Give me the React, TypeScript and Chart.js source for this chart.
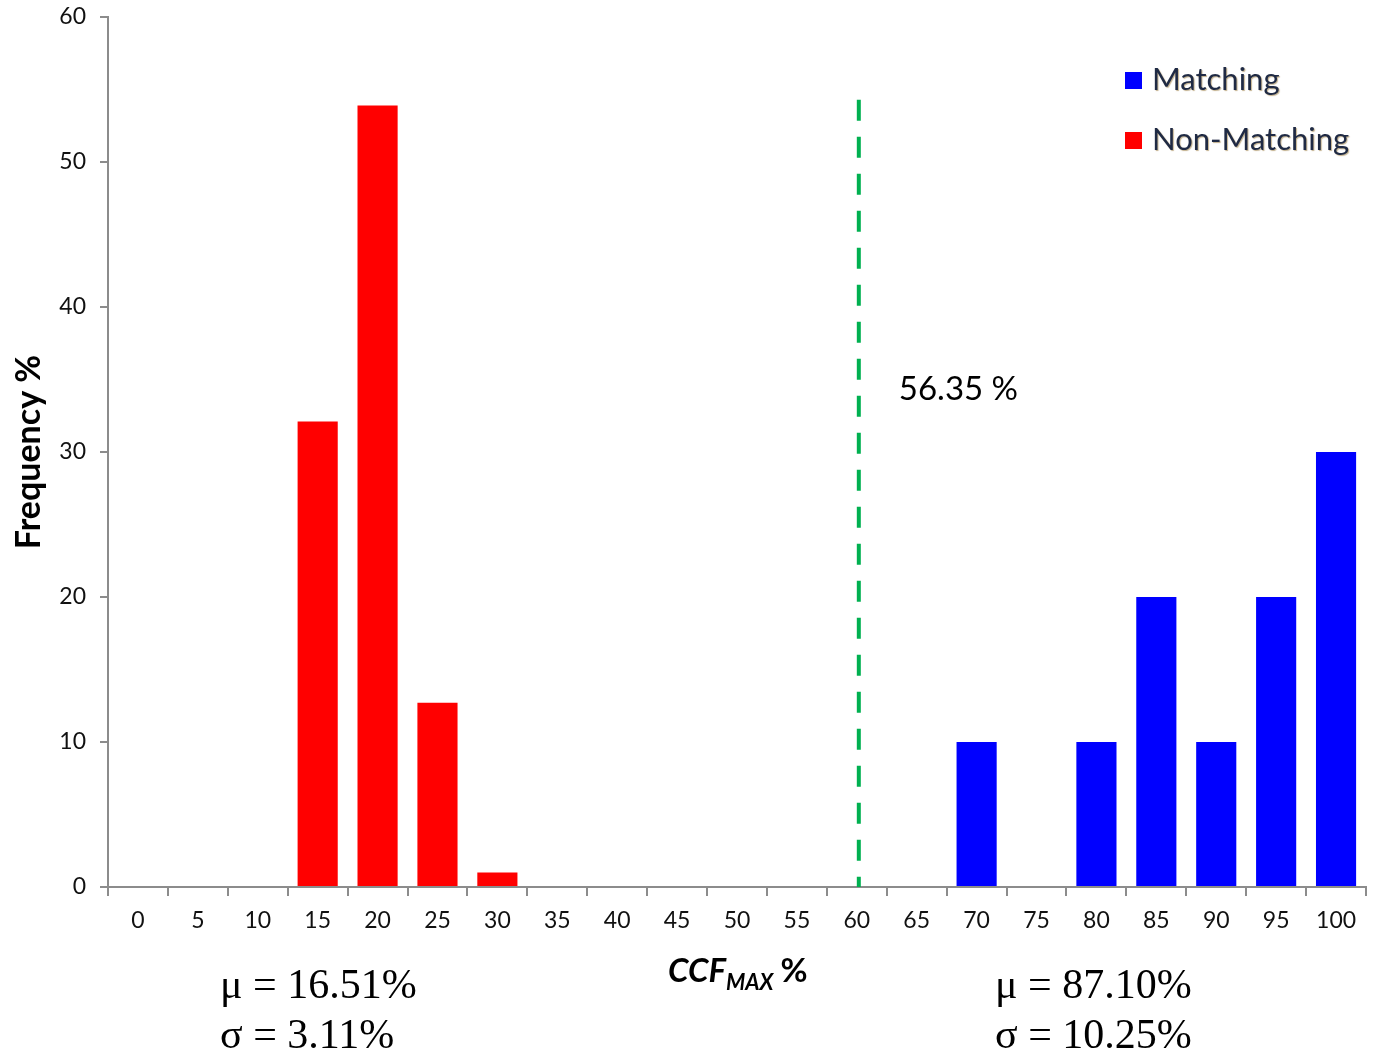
import React, { useEffect, useRef } from "react";
import { Chart, registerables } from "chart.js";

Chart.register(...registerables);

const categories = ["0","5","10","15","20","25","30","35","40","45","50","55","60","65","70","75","80","85","90","95","100"];
const nonMatching = [null,null,null,32.1,53.9,12.7,1.0,null,null,null,null,null,null,null,null,null,null,null,null,null,null];
const matching = [null,null,null,null,null,null,null,null,null,null,null,null,null,null,10,null,10,20,10,20,30];
const yTicks = [0,10,20,30,40,50,60];
const thresholdCategory = "60";
const thresholdTop = 54.3;
const thresholdLabel = "56.35 %";
const thresholdLabelY = 34.3;
const leftStats = ["μ = 16.51%", "σ = 3.11%"];
const rightStats = ["μ = 87.10%", "σ = 10.25%"];
const seriesLabels = ["Matching", "Non-Matching"];
const seriesColors = ["#0000FF", "#FF0000"];

const SANS = "Lato, 'Open Sans', sans-serif";

const overlayPlugin = {
  id: "overlay",
  afterDraw(chart: any) {
    const ctx = chart.ctx;
    const xs = chart.scales.x;
    const ys = chart.scales.y;
    const ca = chart.chartArea;
    ctx.save();
    // threshold dashed line
    const idx = categories.indexOf(thresholdCategory);
    const lx = xs.getPixelForValue(idx) + 2;
    ctx.strokeStyle = "#00B050";
    ctx.lineWidth = 4;
    ctx.setLineDash([21, 16]);
    ctx.beginPath();
    ctx.moveTo(lx, ys.getPixelForValue(thresholdTop));
    ctx.lineTo(lx, ys.getPixelForValue(0));
    ctx.stroke();
    ctx.setLineDash([]);
    // threshold label
    ctx.fillStyle = "#000";
    ctx.font = `33px ${SANS}`;
    ctx.textAlign = "left";
    ctx.textBaseline = "middle";
    ctx.fillText(thresholdLabel, lx + 40, ys.getPixelForValue(thresholdLabelY));
    // legend
    ctx.font = `31px ${SANS}`;
    const legendX = ca.right - 241;
    const legendY0 = ca.top + 63;
    seriesLabels.forEach((lab, i) => {
      const y = legendY0 + i * 60;
      ctx.fillStyle = seriesColors[i];
      ctx.fillRect(legendX, y - 8, 17, 17);
      ctx.save();
      ctx.shadowColor = "rgba(120,80,0,0.45)";
      ctx.shadowOffsetX = 1;
      ctx.shadowOffsetY = 1;
      ctx.shadowBlur = 1;
      ctx.fillStyle = "#1f2a44";
      ctx.textBaseline = "middle";
      ctx.fillText(lab, legendX + 27, y);
      ctx.restore();
    });
    // y title
    ctx.save();
    ctx.translate(29, (ca.top + ca.bottom) / 2);
    ctx.rotate(-Math.PI / 2);
    ctx.fillStyle = "#000";
    ctx.font = `bold 34px ${SANS}`;
    ctx.textAlign = "center";
    ctx.textBaseline = "middle";
    ctx.fillText("Frequency %", 0, 0);
    ctx.restore();
    // x title: CCF_MAX %
    const tx = 668;
    const ty = 982;
    ctx.fillStyle = "#000";
    ctx.textAlign = "left";
    ctx.textBaseline = "alphabetic";
    ctx.font = `italic bold 33px ${SANS}`;
    ctx.fillText("CCF", tx, ty);
    let w = ctx.measureText("CCF").width;
    ctx.font = `italic bold 22px ${SANS}`;
    ctx.fillText("MAX", tx + w, ty + 8);
    w += ctx.measureText("MAX").width + 7;
    ctx.font = `bold 33px ${SANS}`;
    ctx.fillText("%", tx + w, ty);
    // stats
    ctx.font = `42px 'Liberation Serif', 'Times New Roman', serif`;
    ctx.fillText(leftStats[0], 220, 998);
    ctx.fillText(leftStats[1], 220, 1048);
    ctx.fillText(rightStats[0], 995, 998);
    ctx.fillText(rightStats[1], 995, 1048);
    ctx.restore();
  },
};

export default function App() {
  const ref = useRef<HTMLCanvasElement>(null);
  useEffect(() => {
    if (!ref.current) return;
    const chart = new Chart(ref.current, {
      type: "bar",
      data: {
        labels: categories,
        datasets: [
          { label: seriesLabels[0], data: matching as any, backgroundColor: seriesColors[0], borderWidth: 0 },
          { label: seriesLabels[1], data: nonMatching as any, backgroundColor: seriesColors[1], borderWidth: 0 },
        ],
      },
      options: {
        animation: false,
        responsive: false,
        maintainAspectRatio: false,
        layout: { padding: { top: 17, right: 7, left: 0, bottom: 0 } },
        datasets: { bar: { grouped: false, barPercentage: 0.67, categoryPercentage: 1 } } as any,
        plugins: { legend: { display: false }, tooltip: { enabled: false }, title: { display: false } },
        scales: {
          x: {
            grid: { offset: true, drawOnChartArea: false, drawTicks: true, tickLength: 9, color: "#8c8c8c", lineWidth: 2 },
            border: { color: "#8c8c8c", width: 2 },
            ticks: { color: "#111", font: { family: SANS, size: 23 }, padding: 11, maxRotation: 0, autoSkip: false },
            afterFit: (s: any) => { s.height = 1055 - 887 - 0; s.paddingLeft = 0; s.paddingRight = 0; },
          },
          y: {
            min: 0,
            max: 60,
            afterBuildTicks: (s: any) => { s.ticks = yTicks.map((v) => ({ value: v })); },
            grid: { drawOnChartArea: false, drawTicks: true, tickLength: 8, color: "#8c8c8c", lineWidth: 2 },
            border: { color: "#8c8c8c", width: 2 },
            ticks: { color: "#111", font: { family: SANS, size: 23 }, padding: 14 },
            afterFit: (s: any) => { s.width = 108; s.paddingTop = 0; s.paddingBottom = 0; },
          },
        },
      },
      plugins: [overlayPlugin],
    });
    return () => chart.destroy();
  }, []);
  return (
    <div style={{ position: "absolute", left: 0, top: 0, width: 1373, height: 1055, background: "#fff" }}>
      <canvas ref={ref} width={1373} height={1055} style={{ display: "block" }} />
    </div>
  );
}
